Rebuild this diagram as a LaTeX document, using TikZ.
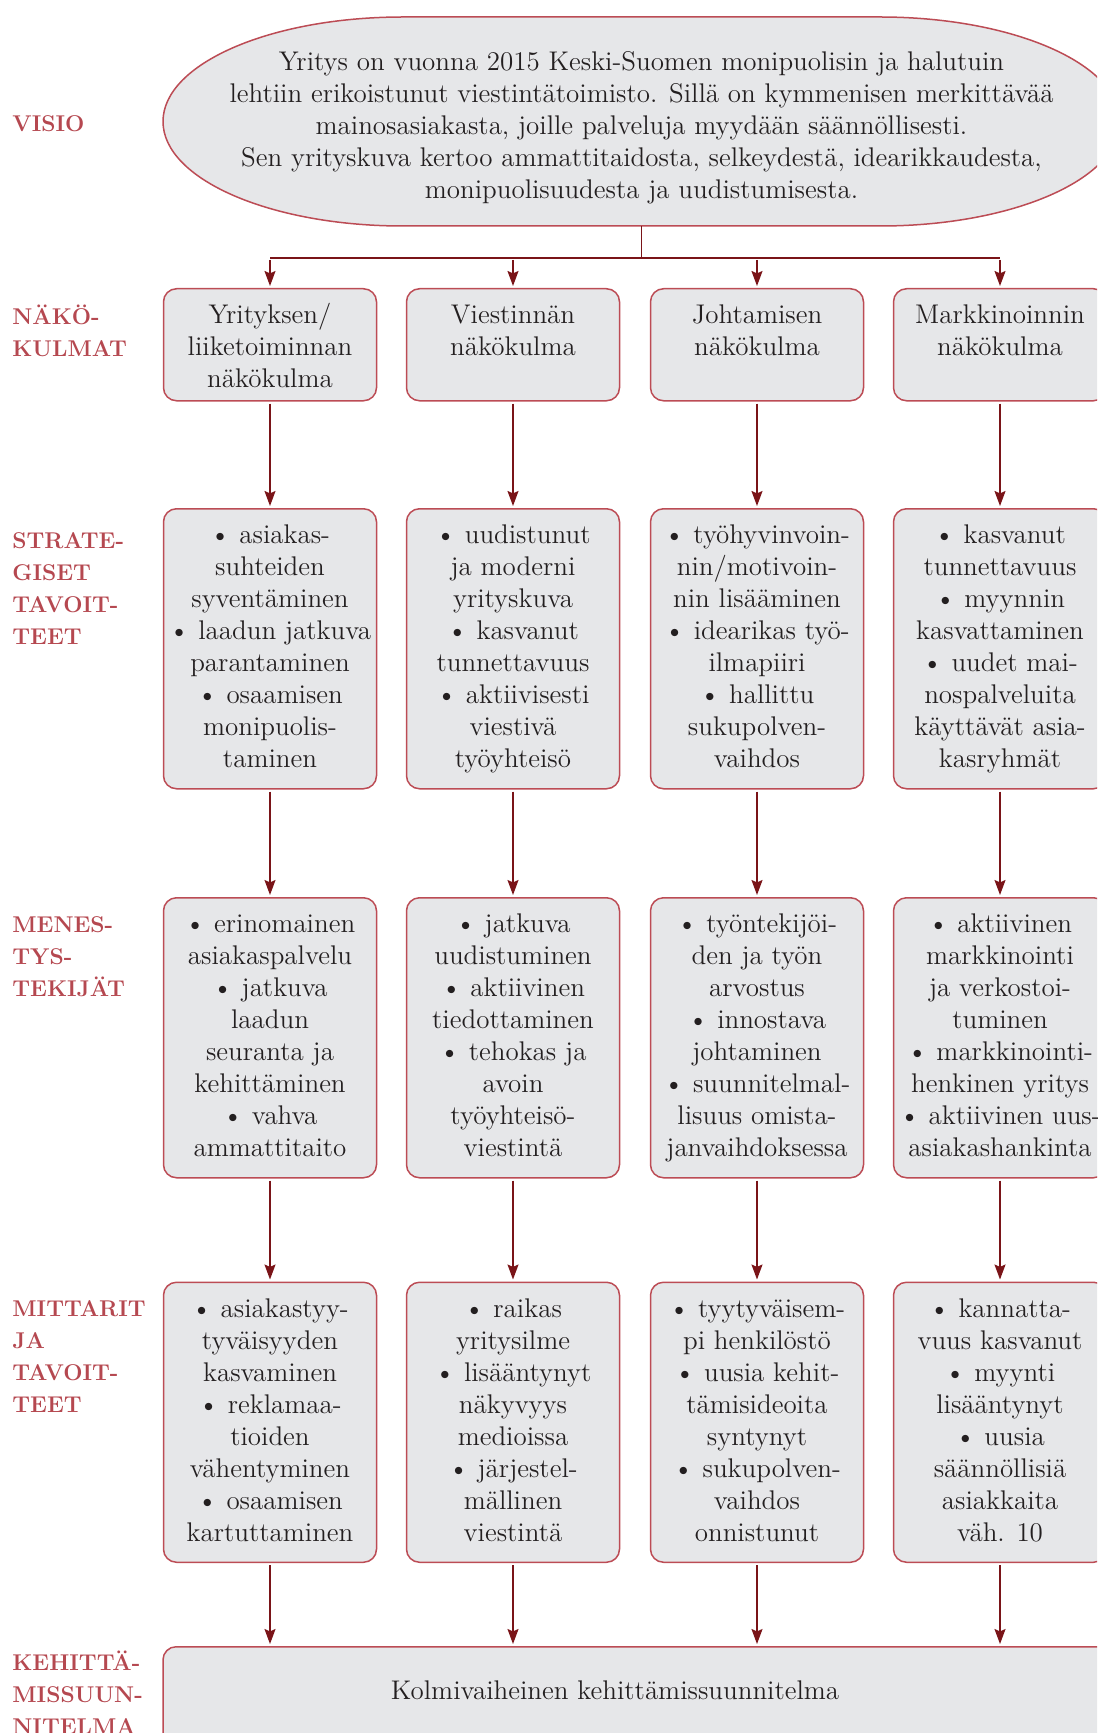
\documentclass[tikz,border=0pt]{standalone}
\usepackage{xcolor}
\usepackage{tikz}
\usetikzlibrary{arrows.meta,calc,positioning}

\definecolor{labelred}{HTML}{B54850}
\definecolor{cellred}{HTML}{BC4C55}
\definecolor{cellgray}{HTML}{E6E7E9}
\definecolor{linkred}{HTML}{7A1418}
\definecolor{inkblack}{HTML}{231F20}

\newcommand{\boxfont}{\fontsize{13.5}{16}\selectfont}
\newcommand{\labelfont}{\fontsize{11.4}{16}\selectfont\bfseries}
% cell contents: height, lines
\newcommand{\cellbox}[2]{\parbox[c][#1][t]{106.5pt}{\centering\rule{0pt}{17.5pt}#2}}
\newcommand{\bu}{\textbullet\ }

\tikzset{
  cell/.style={draw=cellred, fill=cellgray, line width=0.75pt, rounded corners=6.5pt,
    inner sep=0pt, anchor=north, font=\boxfont, text=inkblack},
  lbl/.style={anchor=base west, align=left, inner sep=0pt, text=labelred, font=\labelfont},
  link/.style={draw=linkred, line width=0.75pt},
  arr/.style={link, -{Stealth[length=7.5pt,width=5.5pt,inset=1.2pt]}, shorten <=1pt, shorten >=1pt},
}

\begin{document}
\begin{tikzpicture}[x=0.5pt, y=-0.5pt]
  \useasboundingbox (0,0) rectangle (1097,1733);
  \clip (0,0) rectangle (1097,1733);

  % vision
  \draw[draw=cellred, fill=cellgray, line width=0.75pt] (403,17) -- (880,17)
    arc[start angle=-90, end angle=90, x radius=240, y radius=104.5] -- (403,226)
    arc[start angle=90, end angle=270, x radius=240, y radius=104.5] -- cycle;
  \node[align=center, inner sep=0pt, font=\boxfont, text=inkblack] (visio) at (641.5,127.5)
    {Yritys on vuonna 2015 Keski-Suomen monipuolisin ja halutuin\\
     lehtiin erikoistunut viestintätoimisto. Sillä on kymmenisen merkittävää\\
     mainosasiakasta, joille palveluja myydään säännöllisesti.\\
     Sen yrityskuva kertoo ammattitaidosta, selkeydestä, idearikkaudesta,\\
     monipuolisuudesta ja uudistumisesta.};
  \coordinate (vbot) at (641.5,226);
  \coordinate (split) at (641.5,258);

  % row labels (placed at the baseline of their last line)
  \node[lbl] (lvisio) at (12,132) {VISIO};
  \node[lbl] (lnako) at (12,357) {NÄKÖ-\\KULMAT};
  \node[lbl] (lstrat) at (12,644) {STRATE-\\GISET\\TAVOIT-\\TEET};
  \node[lbl] (lmenes) at (12,996) {MENES-\\TYS-\\TEKIJÄT};
  \node[lbl] (lmitt) at (12,1412) {MITTARIT\\JA\\TAVOIT-\\TEET};
  \node[lbl] (lkeh) at (12,1734) {KEHITTÄ-\\MISSUUN-\\NITELMA};

  % viewpoints
  \node[cell] (n1) at (270,288) {\cellbox{56pt}{Yrityksen/\\liiketoiminnan\\näkökulma}};
  \node[cell] (n2) at (513,288) {\cellbox{56pt}{Viestinnän\\näkökulma}};
  \node[cell] (n3) at (757,288) {\cellbox{56pt}{Johtamisen\\näkökulma}};
  \node[cell] (n4) at (1000,288) {\cellbox{56pt}{Markkinoinnin\\näkökulma}};

  % strategic goals
  \node[cell] (s1) at (270,508) {\cellbox{140pt}{\bu asiakas-\\suhteiden\\syventäminen\\\bu laadun jatkuva\\parantaminen\\\bu osaamisen\\monipuolis-\\taminen}};
  \node[cell] (s2) at (513,508) {\cellbox{140pt}{\bu uudistunut\\ja moderni\\yrityskuva\\\bu kasvanut\\tunnettavuus\\\bu aktiivisesti\\viestivä\\työyhteisö}};
  \node[cell] (s3) at (757,508) {\cellbox{140pt}{\bu työhyvinvoin-\\nin/motivoin-\\nin lisääminen\\\bu idearikas työ-\\ilmapiiri\\\bu hallittu\\sukupolven-\\vaihdos}};
  \node[cell] (s4) at (1000,508) {\cellbox{140pt}{\bu kasvanut\\tunnettavuus\\\bu myynnin\\kasvattaminen\\\bu uudet mai-\\nospalveluita\\käyttävät asia-\\kasryhmät}};

  % success factors
  \node[cell] (m1) at (270,897) {\cellbox{140pt}{\bu erinomainen\\asiakaspalvelu\\\bu jatkuva\\laadun\\seuranta ja\\kehittäminen\\\bu vahva\\ammattitaito}};
  \node[cell] (m2) at (513,897) {\cellbox{140pt}{\bu jatkuva\\uudistuminen\\\bu aktiivinen\\tiedottaminen\\\bu tehokas ja\\avoin\\työyhteisö-\\viestintä}};
  \node[cell] (m3) at (757,897) {\cellbox{140pt}{\bu työntekijöi-\\den ja työn\\arvostus\\\bu innostava\\johtaminen\\\bu suunnitelmal-\\lisuus omista-\\janvaihdoksessa}};
  \node[cell] (m4) at (1000,897) {\cellbox{140pt}{\bu aktiivinen\\markkinointi\\ja verkostoi-\\tuminen\\\bu markkinointi-\\henkinen yritys\\\bu aktiivinen uus-\\asiakashankinta}};

  % measures and targets
  \node[cell] (t1) at (270,1281.5) {\cellbox{140pt}{\bu asiakastyy-\\tyväisyyden\\kasvaminen\\\bu reklamaa-\\tioiden\\vähentyminen\\\bu osaamisen\\kartuttaminen}};
  \node[cell] (t2) at (513,1281.5) {\cellbox{140pt}{\bu raikas\\yritysilme\\\bu lisääntynyt\\näkyvyys\\medioissa\\\bu järjestel-\\mällinen\\viestintä}};
  \node[cell] (t3) at (757,1281.5) {\cellbox{140pt}{\bu tyytyväisem-\\pi henkilöstö\\\bu uusia kehit-\\tämisideoita\\syntynyt\\\bu sukupolven-\\vaihdos\\onnistunut}};
  \node[cell] (t4) at (1000,1281.5) {\cellbox{140pt}{\bu kannatta-\\vuus kasvanut\\\bu myynti\\lisääntynyt\\\bu uusia\\säännöllisiä\\asiakkaita\\väh. 10}};

  % development plan
  \node[cell, minimum width=478.5pt, minimum height=72pt] (plan) at (641.5,1646) {};
  \node[font=\boxfont, text=inkblack, inner sep=0pt] (plantext) at (615,1690) {Kolmivaiheinen kehittämissuunnitelma};

  % connectors
  \draw[link] (vbot) -- (split);
  \draw[link, line width=1pt] (split -| n1) -- (split -| n4);
  \foreach \i in {1,...,4} {
    \draw[arr] (split -| n\i) -- (n\i);
    \draw[arr] (n\i) -- (s\i);
    \draw[arr] (s\i) -- (m\i);
    \draw[arr] (m\i) -- (t\i);
    \draw[arr] (t\i) -- (t\i |- plan.north);
  }
\end{tikzpicture}
\end{document}
